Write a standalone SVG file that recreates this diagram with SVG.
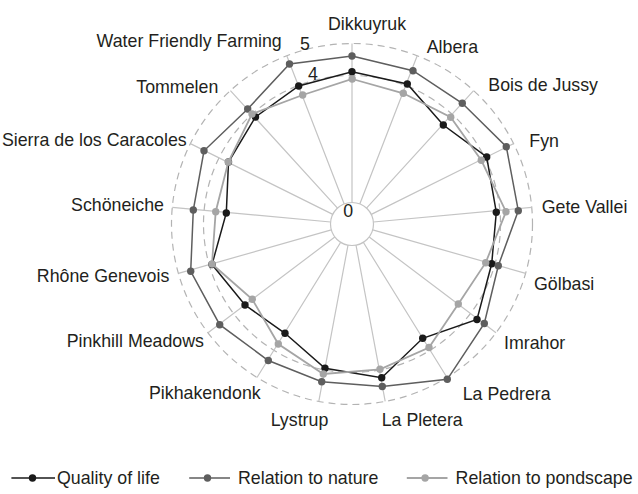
<svg xmlns="http://www.w3.org/2000/svg" width="638" height="494" viewBox="0 0 638 494">
<style>
text{font-family:"Liberation Sans",Arial,sans-serif;font-size:17.8px;fill:#231f20}
.spoke{stroke:#c4c4c4;stroke-width:1.2;fill:none}
.ring{stroke:#b3b3b3;stroke-width:1.2;fill:none;stroke-dasharray:7 5}
.s1{stroke:#1a1a1a;stroke-width:1.5;fill:none}
.s2{stroke:#5e5e5e;stroke-width:1.5;fill:none}
.s3{stroke:#a5a5a5;stroke-width:1.8;fill:none}
.d1{fill:#1a1a1a}
.d2{fill:#5e5e5e}
.d3{fill:#a5a5a5}
</style>
<rect width="638" height="494" fill="#fff"/>
<g id="grid">
<circle class="ring" cx="352" cy="224" r="180.5"/>
<circle class="ring" cx="352" cy="224" r="148.5"/>
<circle cx="352" cy="224" r="21.5" fill="#fff" stroke="#c4c4c4" stroke-width="1.2"/>
<path class="spoke" d="M352,202.5L352,43.5M359.8,204L417.2,55.7M366.5,208.1L473.6,90.6M371.3,214.4L513.6,143.6M373.4,222L531.7,207.3M372.7,229.9L525.6,273.4M369.2,237L496,332.8M363.3,242.3L447,377.5M356,245.1L385.2,401.4M348,245.1L318.8,401.4M340.7,242.3L257,377.5M334.8,237L208,332.8M331.3,229.9L178.4,273.4M330.6,222L172.3,207.3M332.8,214.4L190.4,143.6M337.5,208.1L230.4,90.6M344.2,204L286.8,55.7"/>
</g>
<g id="series-quality">
<polygon class="s1" points="352,71.7 407.3,84 443.3,125 486.7,157 496.3,212.2 491.7,263.8 477,319.5 422.7,338.3 381.7,377.7 325,368.3 285,333.3 245,305 212,264.5 226.3,213 228.5,162 255.5,117 298.7,86"/>
<g class="d1">
<circle cx="352" cy="71.7" r="3.7"/><circle cx="407.3" cy="84" r="3.7"/><circle cx="443.3" cy="125" r="3.7"/><circle cx="486.7" cy="157" r="3.7"/><circle cx="496.3" cy="212.2" r="3.7"/><circle cx="491.7" cy="263.8" r="3.7"/><circle cx="477" cy="319.5" r="3.7"/><circle cx="422.7" cy="338.3" r="3.7"/><circle cx="381.7" cy="377.7" r="3.7"/><circle cx="325" cy="368.3" r="3.7"/><circle cx="285" cy="333.3" r="3.7"/><circle cx="245" cy="305" r="3.7"/><circle cx="212" cy="264.5" r="3.7"/><circle cx="226.3" cy="213" r="3.7"/><circle cx="228.5" cy="162" r="3.7"/><circle cx="255.5" cy="117" r="3.7"/><circle cx="298.7" cy="86" r="3.7"/>
</g>
</g>
<g id="series-nature">
<polygon class="s2" points="352,56 413,70.7 462.3,103.3 506.3,146.7 518.3,210.7 498.3,265.7 484.3,323.5 447.3,379.3 382.3,386.5 321.7,381.7 268.3,360.5 219.7,324.7 190.7,271.3 193.3,210 204,150.8 247.7,109 289.5,64"/>
<g class="d2">
<circle cx="352" cy="56" r="3.7"/><circle cx="413" cy="70.7" r="3.7"/><circle cx="462.3" cy="103.3" r="3.7"/><circle cx="506.3" cy="146.7" r="3.7"/><circle cx="518.3" cy="210.7" r="3.7"/><circle cx="498.3" cy="265.7" r="3.7"/><circle cx="484.3" cy="323.5" r="3.7"/><circle cx="447.3" cy="379.3" r="3.7"/><circle cx="382.3" cy="386.5" r="3.7"/><circle cx="321.7" cy="381.7" r="3.7"/><circle cx="268.3" cy="360.5" r="3.7"/><circle cx="219.7" cy="324.7" r="3.7"/><circle cx="190.7" cy="271.3" r="3.7"/><circle cx="193.3" cy="210" r="3.7"/><circle cx="204" cy="150.8" r="3.7"/><circle cx="247.7" cy="109" r="3.7"/><circle cx="289.5" cy="64" r="3.7"/>
</g>
</g>
<g id="series-pondscape">
<polygon class="s3" points="352.2,79 403.3,93.3 450.7,117.3 481.3,160.3 506,211.7 485.7,262.7 458.3,304 429,347.5 380,369.3 323.3,374 278.3,344 252.3,299.3 212,264 215.7,211.7 228.3,162 252,114 302.7,95"/>
<g class="d3">
<circle cx="352.2" cy="79" r="3.7"/><circle cx="403.3" cy="93.3" r="3.7"/><circle cx="450.7" cy="117.3" r="3.7"/><circle cx="481.3" cy="160.3" r="3.7"/><circle cx="506" cy="211.7" r="3.7"/><circle cx="485.7" cy="262.7" r="3.7"/><circle cx="458.3" cy="304" r="3.7"/><circle cx="429" cy="347.5" r="3.7"/><circle cx="380" cy="369.3" r="3.7"/><circle cx="323.3" cy="374" r="3.7"/><circle cx="278.3" cy="344" r="3.7"/><circle cx="252.3" cy="299.3" r="3.7"/><circle cx="212" cy="264" r="3.7"/><circle cx="215.7" cy="211.7" r="3.7"/><circle cx="228.3" cy="162" r="3.7"/><circle cx="252" cy="114" r="3.7"/><circle cx="302.7" cy="95" r="3.7"/>
</g>
</g>
<g id="scale">
<text x="305" y="49.5" text-anchor="middle">5</text>
<text x="313" y="80" text-anchor="middle">4</text>
<text x="348.3" y="217.3" text-anchor="middle">0</text>
</g>
<g id="labels">
<text x="367" y="30" text-anchor="middle">Dikkuyruk</text>
<text x="426.7" y="53.3">Albera</text>
<text x="488.3" y="90.7">Bois de Jussy</text>
<text x="529.3" y="146.7">Fyn</text>
<text x="541.7" y="213.3">Gete Vallei</text>
<text x="534" y="290">Gölbasi</text>
<text x="504" y="349.3">Imrahor</text>
<text x="462.7" y="400">La Pedrera</text>
<text x="381.7" y="426">La Pletera</text>
<text x="328.3" y="426" text-anchor="end">Lystrup</text>
<text x="260.7" y="399.3" text-anchor="end">Pikhakendonk</text>
<text x="204" y="347.3" text-anchor="end">Pinkhill Meadows</text>
<text x="169.3" y="282.3" text-anchor="end">Rhône Genevois</text>
<text x="164" y="210.7" text-anchor="end">Schöneiche</text>
<text x="186.7" y="146" text-anchor="end">Sierra de los Caracoles</text>
<text x="218.3" y="93.3" text-anchor="end">Tommelen</text>
<text x="281.7" y="46.7" text-anchor="end">Water Friendly Farming</text>
</g>
<g id="legend">
<line class="s1" x1="11.4" y1="478" x2="55" y2="478"/><circle class="d1" cx="32.5" cy="478" r="3.7"/>
<text x="57" y="484">Quality of life</text>
<line class="s2" x1="189.2" y1="478" x2="230" y2="478"/><circle class="d2" cx="207.5" cy="478" r="3.7"/>
<text x="238" y="484">Relation to nature</text>
<line class="s3" x1="406.8" y1="478" x2="447.5" y2="478"/><circle class="d3" cx="425.1" cy="478" r="3.7"/>
<text x="455.6" y="484">Relation to pondscape</text>
</g>
</svg>
